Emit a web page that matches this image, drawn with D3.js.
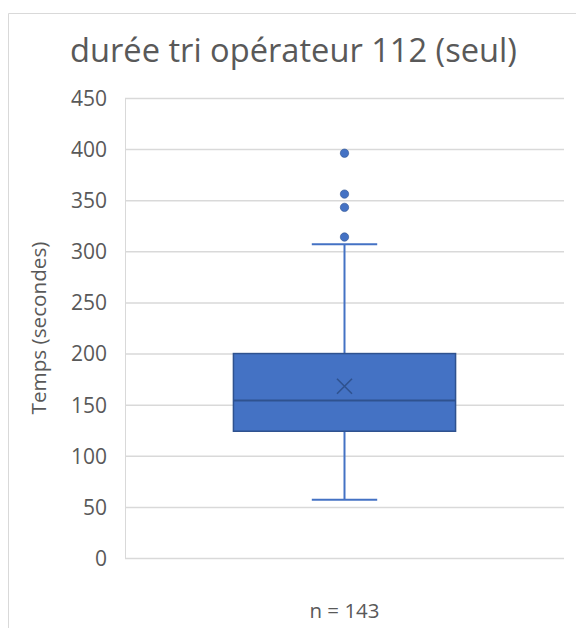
<!DOCTYPE html>
<html><head><meta charset="utf-8">
<script src="https://cdn.jsdelivr.net/npm/d3@7"></script>
<style>html,body{margin:0;padding:0;background:#fff;} svg{display:block;}</style>
</head><body>
<svg id="chart" width="576" height="628"></svg>
<script>
const chartTitle = "durée tri opérateur 112 (seul)";
const yAxisTitle = "Temps (secondes)";
const categories = ["n = 143"];
const q1 = [124];
const median = [154];
const q3 = [200];
const mean = [168];
const whiskerLow = [57];
const whiskerHigh = [307];
const outliers = [314, 343, 356, 396];
const yTicks = [0, 50, 100, 150, 200, 250, 300, 350, 400, 450];

const svg = d3.select("#chart");
const font = "'Open Sans', 'Noto Sans', sans-serif";
const textCol = "#595959";
const fill = "#4472C4", dark = "#2F528F";

const m = {left:125, right:564, top:98, bottom:558};
const y = d3.scaleLinear().domain([0,450]).range([m.bottom, m.top]);
const x = d3.scaleBand().domain(categories).range([m.left, m.right]).padding(0);

// outer border
svg.append("path").attr("d","M8.5,628 V13.5 H576").attr("fill","none").attr("stroke","#D9D9D9").attr("stroke-width",1);

function fit(sel, w){
  const cur = sel.node().getComputedTextLength();
  const fs = parseFloat(sel.attr("font-size"));
  sel.attr("font-size", fs*w/cur);
}

// title
const t = svg.append("text").attr("x",293.5).attr("y",62).attr("text-anchor","middle")
  .attr("font-family",font).attr("font-size",28).attr("fill",textCol).text(chartTitle);
fit(t, 447);

// grid
svg.append("g").selectAll("line").data(yTicks).join("line")
  .attr("x1",m.left).attr("x2",m.right)
  .attr("y1",d=>y(d)+0.5).attr("y2",d=>y(d)+0.5)
  .attr("stroke","#D9D9D9").attr("stroke-width",1.5);
svg.append("line").attr("x1",m.left+0.5).attr("x2",m.left+0.5).attr("y1",y(450)).attr("y2",y(0))
  .attr("stroke","#D9D9D9").attr("stroke-width",1);

// y axis labels
const yAxis = d3.axisLeft(y).tickValues(yTicks).tickSize(0).tickPadding(0);
const ag = svg.append("g").attr("transform",`translate(107,0)`).call(yAxis);
ag.select(".domain").remove();
ag.selectAll("text").attr("font-family",font).attr("font-size",21).attr("fill",textCol).attr("dy","0.35em");

// y title
const yt = svg.append("text").attr("transform","translate(46,328) rotate(-90)").attr("text-anchor","middle")
  .attr("font-family",font).attr("font-size",18).attr("fill",textCol).text(yAxisTitle);
fit(yt, 173);

// x label
const xl = svg.selectAll(".xl").data(categories).join("text").attr("class","xl")
  .attr("x",d=>x(d)+x.bandwidth()/2).attr("y",618).attr("text-anchor","middle")
  .attr("font-family",font).attr("font-size",18).attr("fill",textCol).text(d=>d);
fit(xl, 70);

// boxes
const g = svg.append("g");
categories.forEach((c,i)=>{
  const cx = x(c)+x.bandwidth()/2;
  const bw = x.bandwidth()*0.506;
  const capw = x.bandwidth()*0.149;
  // whiskers
  g.append("line").attr("x1",cx).attr("x2",cx).attr("y1",y(whiskerHigh[i])).attr("y2",y(q3[i])).attr("stroke",fill).attr("stroke-width",2);
  g.append("line").attr("x1",cx).attr("x2",cx).attr("y1",y(q1[i])).attr("y2",y(whiskerLow[i])).attr("stroke",fill).attr("stroke-width",2);
  g.append("line").attr("x1",cx-capw/2).attr("x2",cx+capw/2).attr("y1",y(whiskerHigh[i])).attr("y2",y(whiskerHigh[i])).attr("stroke",fill).attr("stroke-width",2);
  g.append("line").attr("x1",cx-capw/2).attr("x2",cx+capw/2).attr("y1",y(whiskerLow[i])).attr("y2",y(whiskerLow[i])).attr("stroke",fill).attr("stroke-width",2);
  // box
  g.append("rect").attr("x",cx-bw/2).attr("y",y(q3[i])).attr("width",bw).attr("height",y(q1[i])-y(q3[i]))
    .attr("fill",fill).attr("stroke",dark).attr("stroke-width",1.5);
  g.append("line").attr("x1",cx-bw/2).attr("x2",cx+bw/2).attr("y1",y(median[i])).attr("y2",y(median[i])).attr("stroke",dark).attr("stroke-width",2);
  // mean X
  const my = y(mean[i]), s = 7.5;
  g.append("path").attr("d",`M${cx-s},${my-s} L${cx+s},${my+s} M${cx-s},${my+s} L${cx+s},${my-s}`)
    .attr("stroke",dark).attr("stroke-width",1.6).attr("fill","none");
  // outliers
  g.selectAll(".o"+i).data(outliers).join("circle").attr("class","o"+i)
    .attr("cx",cx).attr("cy",d=>y(d)).attr("r",4.2).attr("fill",fill).attr("stroke",dark).attr("stroke-width",0.6);
});
</script>
</body></html>
